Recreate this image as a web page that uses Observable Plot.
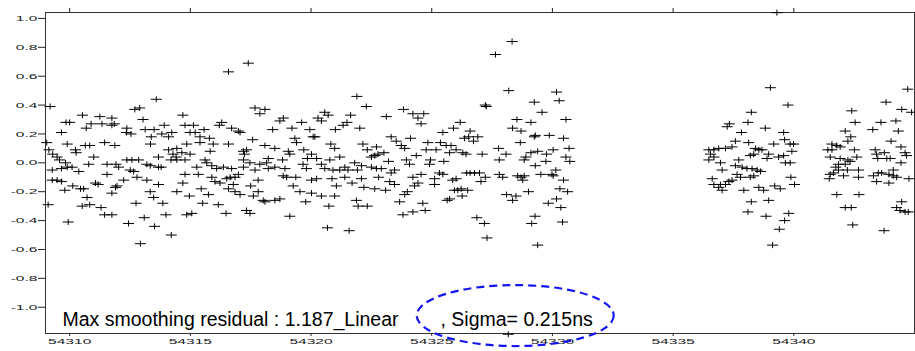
<!DOCTYPE html>
<html>
<head>
<meta charset="utf-8">
<script src="https://cdn.jsdelivr.net/npm/d3@7"></script>
<script src="https://cdn.jsdelivr.net/npm/@observablehq/plot@0.6"></script>
<style>
  html, body { margin: 0; padding: 0; background: #fff; }
  #chart { width: 915px; height: 351px; overflow: hidden; }
</style>
</head>
<body>
<div id="chart"></div>
<script>
// ---- data: [MJD, residual (ns)] ----
const seg1 = [[54309.19,0.39],[54313.59,0.44],[54312.90,0.38],[54312.70,0.37],[54310.53,0.33],[54311.25,0.32],[54311.75,0.31],[54313.04,0.30],[54309.85,0.28],[54310.00,0.28],[54310.89,0.27],[54311.34,0.27],[54311.75,0.26],[54311.85,0.27],[54310.69,0.24],[54313.92,0.26],[54312.37,0.24],[54313.13,0.23],[54313.50,0.23],[54309.66,0.21],[54312.35,0.21],[54312.54,0.20],[54313.82,0.20],[54314.23,0.21],[54313.38,0.18],[54314.10,0.18],[54311.45,0.14],[54309.90,0.13],[54311.87,0.12],[54309.05,0.14],[54313.35,0.13],[54310.65,0.12],[54310.83,0.12],[54310.24,0.09],[54310.27,0.07],[54314.10,0.09],[54314.44,0.10],[54309.14,0.09],[54309.30,0.06],[54309.48,0.04],[54309.58,0.02],[54311.00,0.04],[54313.68,0.04],[54314.28,0.06],[54314.41,0.04],[54314.20,0.02],[54314.44,0.02],[54312.37,0.02],[54312.58,0.02],[54312.86,0.02],[54309.83,0.00],[54310.79,-0.01],[54311.55,-0.01],[54311.92,-0.01],[54312.03,-0.03],[54313.20,-0.01],[54313.34,-0.02],[54313.68,-0.03],[54313.79,-0.03],[54309.28,-0.05],[54309.66,-0.04],[54309.90,-0.03],[54310.10,-0.03],[54310.38,-0.06],[54312.51,-0.05],[54312.65,-0.06],[54311.55,-0.08],[54312.79,-0.10],[54312.24,-0.12],[54309.28,-0.12],[54309.48,-0.12],[54309.66,-0.13],[54311.07,-0.14],[54311.18,-0.15],[54313.20,-0.12],[54313.68,-0.15],[54310.13,-0.16],[54311.96,-0.16],[54311.90,-0.17],[54309.80,-0.19],[54310.45,-0.18],[54310.58,-0.18],[54311.75,-0.21],[54313.34,-0.20],[54314.44,-0.20],[54310.72,-0.24],[54313.48,-0.24],[54309.11,-0.29],[54310.52,-0.30],[54310.83,-0.29],[54311.30,-0.31],[54312.75,-0.28],[54313.86,-0.28],[54311.45,-0.36],[54311.75,-0.36],[54313.99,-0.36],[54309.94,-0.41],[54312.44,-0.42],[54313.09,-0.38],[54313.52,-0.44],[54314.21,-0.50],[54312.93,-0.56]];

const seg2 = [[54317.40,0.69],[54316.58,0.63],[54314.69,0.33],[54317.68,0.38],[54318.09,0.37],[54317.88,0.34],[54318.71,0.29],[54318.85,0.31],[54316.30,0.28],[54316.20,0.26],[54319.61,0.28],[54314.78,0.26],[54315.13,0.26],[54315.57,0.23],[54316.71,0.24],[54316.99,0.22],[54317.06,0.21],[54318.41,0.23],[54319.21,0.24],[54319.95,0.23],[54314.99,0.21],[54315.20,0.21],[54315.40,0.18],[54315.79,0.17],[54317.58,0.16],[54319.33,0.17],[54319.40,0.14],[54320.09,0.18],[54314.85,0.13],[54315.40,0.14],[54315.95,0.13],[54316.58,0.13],[54318.09,0.12],[54318.50,0.10],[54315.82,0.08],[54317.20,0.08],[54317.33,0.09],[54319.06,0.08],[54319.12,0.06],[54319.70,0.09],[54314.65,0.07],[54314.99,0.06],[54320.02,0.06],[54317.24,0.06],[54318.23,0.03],[54319.85,0.03],[54314.78,0.02],[54315.61,0.02],[54315.68,0.00],[54317.20,0.02],[54317.47,0.00],[54317.88,-0.01],[54318.16,0.00],[54318.82,0.02],[54319.67,-0.01],[54315.27,-0.03],[54315.89,-0.02],[54316.09,-0.04],[54316.37,-0.03],[54316.71,-0.04],[54317.20,-0.03],[54317.68,-0.05],[54318.23,-0.04],[54318.50,-0.03],[54318.92,-0.04],[54319.81,-0.04],[54316.99,-0.08],[54316.85,-0.10],[54314.78,-0.08],[54315.33,-0.08],[54315.89,-0.10],[54317.81,-0.12],[54318.85,-0.09],[54318.99,-0.10],[54319.37,-0.10],[54320.02,-0.12],[54316.02,-0.13],[54316.23,-0.14],[54316.51,-0.11],[54316.65,-0.10],[54314.69,-0.14],[54316.78,-0.15],[54319.26,-0.16],[54317.50,-0.16],[54315.45,-0.18],[54316.58,-0.18],[54316.85,-0.20],[54317.06,-0.22],[54317.81,-0.20],[54319.54,-0.20],[54314.96,-0.23],[54315.75,-0.22],[54317.61,-0.23],[54320.02,-0.21],[54318.02,-0.26],[54318.09,-0.27],[54318.50,-0.26],[54318.71,-0.25],[54315.51,-0.28],[54316.16,-0.29],[54319.78,-0.27],[54317.33,-0.33],[54317.47,-0.35],[54314.85,-0.36],[54315.06,-0.35],[54316.48,-0.35],[54319.12,-0.37]];

const seg3 = [[54321.90,0.46],[54322.29,0.39],[54320.57,0.35],[54320.71,0.33],[54320.29,0.31],[54320.43,0.29],[54321.64,0.33],[54323.12,0.32],[54323.83,0.37],[54324.22,0.34],[54324.43,0.31],[54324.67,0.34],[54324.56,0.27],[54321.49,0.28],[54321.33,0.26],[54321.01,0.23],[54322.02,0.24],[54325.46,0.21],[54320.16,0.18],[54323.32,0.18],[54323.53,0.15],[54324.12,0.17],[54320.82,0.13],[54320.98,0.10],[54322.15,0.13],[54322.71,0.11],[54322.33,0.09],[54323.74,0.12],[54323.88,0.10],[54324.84,0.14],[54325.36,0.14],[54325.60,0.12],[54324.77,0.09],[54325.18,0.09],[54323.02,0.07],[54322.77,0.06],[54322.50,0.04],[54322.64,0.05],[54324.36,0.05],[54321.19,0.04],[54320.23,0.03],[54320.78,0.02],[54323.95,0.02],[54323.21,0.01],[54324.95,0.02],[54324.91,-0.01],[54325.50,0.01],[54320.43,-0.01],[54320.57,-0.04],[54321.40,-0.03],[54321.81,0.00],[54322.09,-0.02],[54324.08,-0.01],[54322.50,-0.03],[54322.91,-0.04],[54322.71,-0.04],[54320.91,-0.05],[54321.19,-0.05],[54321.53,-0.05],[54321.92,-0.05],[54323.46,-0.05],[54323.32,-0.07],[54325.32,-0.07],[54325.46,-0.08],[54324.56,-0.08],[54320.23,-0.11],[54320.87,-0.11],[54321.40,-0.10],[54322.09,-0.11],[54322.80,-0.10],[54324.22,-0.10],[54325.12,-0.11],[54321.70,-0.14],[54323.26,-0.13],[54323.46,-0.15],[54324.43,-0.14],[54325.12,-0.15],[54321.05,-0.16],[54322.19,-0.17],[54322.64,-0.18],[54323.09,-0.19],[54324.29,-0.16],[54323.99,-0.20],[54323.88,-0.22],[54320.43,-0.23],[54320.98,-0.23],[54321.88,-0.26],[54321.95,-0.30],[54322.33,-0.30],[54320.74,-0.30],[54323.67,-0.27],[54324.63,-0.28],[54325.64,-0.26],[54323.81,-0.36],[54324.22,-0.34],[54324.73,-0.33],[54320.68,-0.45],[54321.58,-0.47]];

const seg4 = [[54328.33,0.84],[54327.64,0.75],[54328.19,0.50],[54330.17,0.49],[54327.22,0.40],[54327.26,0.39],[54329.25,0.42],[54329.57,0.35],[54330.28,0.43],[54330.56,0.30],[54326.18,0.28],[54325.90,0.24],[54328.53,0.30],[54329.11,0.28],[54328.35,0.24],[54328.70,0.22],[54326.59,0.22],[54326.36,0.17],[54326.53,0.18],[54326.73,0.15],[54326.91,0.18],[54329.29,0.19],[54329.25,0.18],[54329.87,0.19],[54330.46,0.17],[54328.67,0.14],[54327.77,0.10],[54330.69,0.10],[54325.80,0.12],[54326.01,0.09],[54326.29,0.07],[54326.42,0.06],[54325.74,0.07],[54327.09,0.06],[54328.08,0.06],[54329.39,0.08],[54329.11,0.07],[54330.03,0.09],[54329.76,0.06],[54330.56,0.04],[54330.72,0.01],[54328.90,0.04],[54328.83,0.02],[54327.80,0.02],[54329.73,0.01],[54329.29,-0.02],[54330.14,-0.05],[54330.03,-0.09],[54326.45,-0.07],[54326.59,-0.07],[54326.98,-0.07],[54326.77,-0.07],[54327.80,-0.08],[54327.94,-0.10],[54328.56,-0.09],[54328.70,-0.10],[54328.83,-0.09],[54328.77,-0.12],[54329.52,-0.08],[54329.98,-0.08],[54326.01,-0.11],[54325.87,-0.12],[54327.22,-0.10],[54327.04,-0.13],[54330.46,-0.12],[54326.22,-0.18],[54326.08,-0.19],[54326.49,-0.19],[54325.94,-0.19],[54326.26,-0.23],[54325.74,-0.25],[54328.10,-0.22],[54328.49,-0.23],[54328.35,-0.26],[54329.01,-0.20],[54330.31,-0.18],[54330.63,-0.20],[54330.17,-0.25],[54329.83,-0.28],[54330.35,-0.31],[54326.87,-0.38],[54327.18,-0.42],[54329.28,-0.37],[54329.14,-0.42],[54330.42,-0.41],[54327.29,-0.52],[54329.39,-0.57],[54328.17,-1.187]];

const seg5 = [[54339.03,0.52],[54339.76,0.40],[54338.24,0.35],[54337.33,0.27],[54337.24,0.25],[54338.10,0.28],[54338.82,0.24],[54339.58,0.21],[54339.62,0.16],[54337.83,0.21],[54337.58,0.15],[54338.13,0.14],[54339.17,0.13],[54339.85,0.13],[54339.99,0.13],[54336.48,0.09],[54336.69,0.09],[54336.89,0.10],[54337.17,0.10],[54337.44,0.11],[54338.41,0.10],[54338.55,0.09],[54338.68,0.09],[54338.34,0.06],[54338.20,0.05],[54338.96,0.06],[54338.89,0.03],[54339.92,0.08],[54339.58,0.05],[54339.37,0.04],[54336.55,0.06],[54336.69,0.04],[54336.48,0.02],[54337.72,0.02],[54336.96,0.00],[54339.65,0.00],[54339.85,0.00],[54337.58,-0.02],[54337.86,-0.03],[54338.06,-0.04],[54338.27,-0.04],[54337.03,-0.05],[54338.48,-0.05],[54338.62,-0.06],[54337.65,-0.08],[54338.20,-0.10],[54338.34,-0.09],[54337.79,-0.10],[54339.88,-0.10],[54336.62,-0.11],[54337.44,-0.12],[54337.31,-0.13],[54337.17,-0.15],[54336.96,-0.15],[54336.69,-0.15],[54336.89,-0.17],[54337.03,-0.19],[54340.03,-0.15],[54338.55,-0.17],[54338.75,-0.19],[54339.21,-0.16],[54339.44,-0.18],[54337.93,-0.19],[54338.24,-0.27],[54338.96,-0.26],[54338.10,-0.34],[54338.85,-0.37],[54339.79,-0.35],[54339.62,-0.40],[54339.40,-0.46],[54339.12,-0.57],[54339.30,1.04]];

const seg6 = [[54344.72,0.51],[54343.82,0.42],[54342.40,0.36],[54344.47,0.37],[54344.88,0.35],[54342.54,0.28],[54343.61,0.28],[54344.23,0.29],[54342.13,0.22],[54343.27,0.23],[54344.33,0.22],[54342.36,0.18],[54342.24,0.15],[54344.03,0.15],[54341.58,0.13],[54341.78,0.12],[54341.92,0.11],[54344.44,0.11],[54341.41,0.09],[54341.58,0.09],[54342.51,0.09],[54343.37,0.09],[54343.75,0.07],[54343.43,0.06],[54344.61,0.07],[54344.67,0.05],[54341.51,0.04],[54341.92,0.03],[54342.61,0.04],[54343.48,0.03],[54343.85,0.03],[54343.99,0.03],[54342.24,0.02],[54342.33,0.01],[54341.85,-0.01],[54341.74,-0.03],[54342.13,-0.01],[54344.44,0.00],[54342.68,-0.05],[54342.22,-0.05],[54344.12,-0.05],[54343.50,-0.07],[54343.64,-0.07],[54341.51,-0.08],[54341.64,-0.07],[54341.85,-0.05],[54342.06,-0.09],[54343.30,-0.09],[54343.94,-0.08],[54344.12,-0.09],[54344.26,-0.10],[54342.68,-0.10],[54341.47,-0.11],[54344.77,-0.11],[54343.43,-0.13],[54343.94,-0.14],[54341.78,-0.22],[54342.70,-0.22],[54344.47,-0.27],[54344.26,-0.31],[54344.40,-0.33],[54344.61,-0.34],[54344.74,-0.34],[54342.13,-0.31],[54342.38,-0.31],[54342.44,-0.43],[54343.74,-0.47]];

const xTicks = [54310, 54315, 54320, 54325, 54330, 54335, 54340];
const yTicks = [-1.0, -0.8, -0.6, -0.4, -0.2, 0.0, 0.2, 0.4, 0.6, 0.8, 1.0];
const label1 = "Max smoothing residual : 1.187_Linear";
const label2 = ", Sigma= 0.215ns";

const points = [...seg1, ...seg2, ...seg3, ...seg4, ...seg5, ...seg6].map(([mjd, res]) => ({mjd, res}));

// wide, flat "+" marker
const plusMarker = {
  draw(ctx) {
    ctx.moveTo(-5.5, 0); ctx.lineTo(5.5, 0);
    ctx.moveTo(0, -3); ctx.lineTo(0, 3);
  }
};

const chart = Plot.plot({
  width: 915,
  height: 351,
  marginLeft: 45,
  marginRight: 1,
  marginTop: 12,
  marginBottom: 18,
  style: {background: "#fff", color: "#222", fontFamily: "'Liberation Sans', Arial, sans-serif", fontSize: "8px", overflow: "visible"},
  x: {domain: [54309, 54345], label: null},
  y: {domain: [-1.182, 1.041], label: null},
  marks: [
    Plot.frame({stroke: "#333", strokeWidth: 1}),
    Plot.axisY({ticks: yTicks, tickSize: 7, tickPadding: 1, tickFormat: d => d.toFixed(1), label: null, fontSize: 8}),
    Plot.axisX({anchor: "bottom", ticks: xTicks, tickSize: 3, tickPadding: 2, tickFormat: d => String(d), label: null, fontSize: 8}),
    Plot.axisX({anchor: "top", ticks: xTicks, tickSize: 5, tickFormat: () => "", label: null}),
    Plot.dot(points, {x: "mjd", y: "res", symbol: plusMarker, fill: "none", stroke: "#000", strokeWidth: 1}),
    Plot.text([label1], {text: d => d, frameAnchor: "bottom-left", dx: 17, dy: -8, textAnchor: "start", lineAnchor: "bottom", fontSize: 19.5, fill: "#000"}),
    Plot.text([label2], {text: d => d, frameAnchor: "bottom-left", dx: 395, dy: -8, textAnchor: "start", lineAnchor: "bottom", fontSize: 19.5, fill: "#000"})
  ]
});

// horizontally stretched tick labels, like the reference (scale about each label's anchor)
chart.querySelectorAll('g[aria-label$="tick label"] text').forEach(t => {
  let tr = t.getAttribute("transform") || "";
  const x = t.getAttribute("x");
  if (x != null && /^-?[\d.]+$/.test(x)) {
    tr += ` translate(${x},0)`;
    t.removeAttribute("x");
  }
  t.setAttribute("transform", (tr + " scale(1.95,1)").trim());
});

// dashed blue ellipse around the Sigma annotation
const sx = chart.scale("x"), sy = chart.scale("y");
d3.select(chart).append("ellipse")
  .attr("cx", sx.apply(54328.48))
  .attr("cy", sy.apply(-1.061))
  .attr("rx", 98.5)
  .attr("ry", 30.5)
  .attr("fill", "none")
  .attr("stroke", "#1515f0")
  .attr("stroke-width", 2.2)
  .attr("stroke-dasharray", "8,5");

document.getElementById("chart").appendChild(chart);
</script>
</body>
</html>
